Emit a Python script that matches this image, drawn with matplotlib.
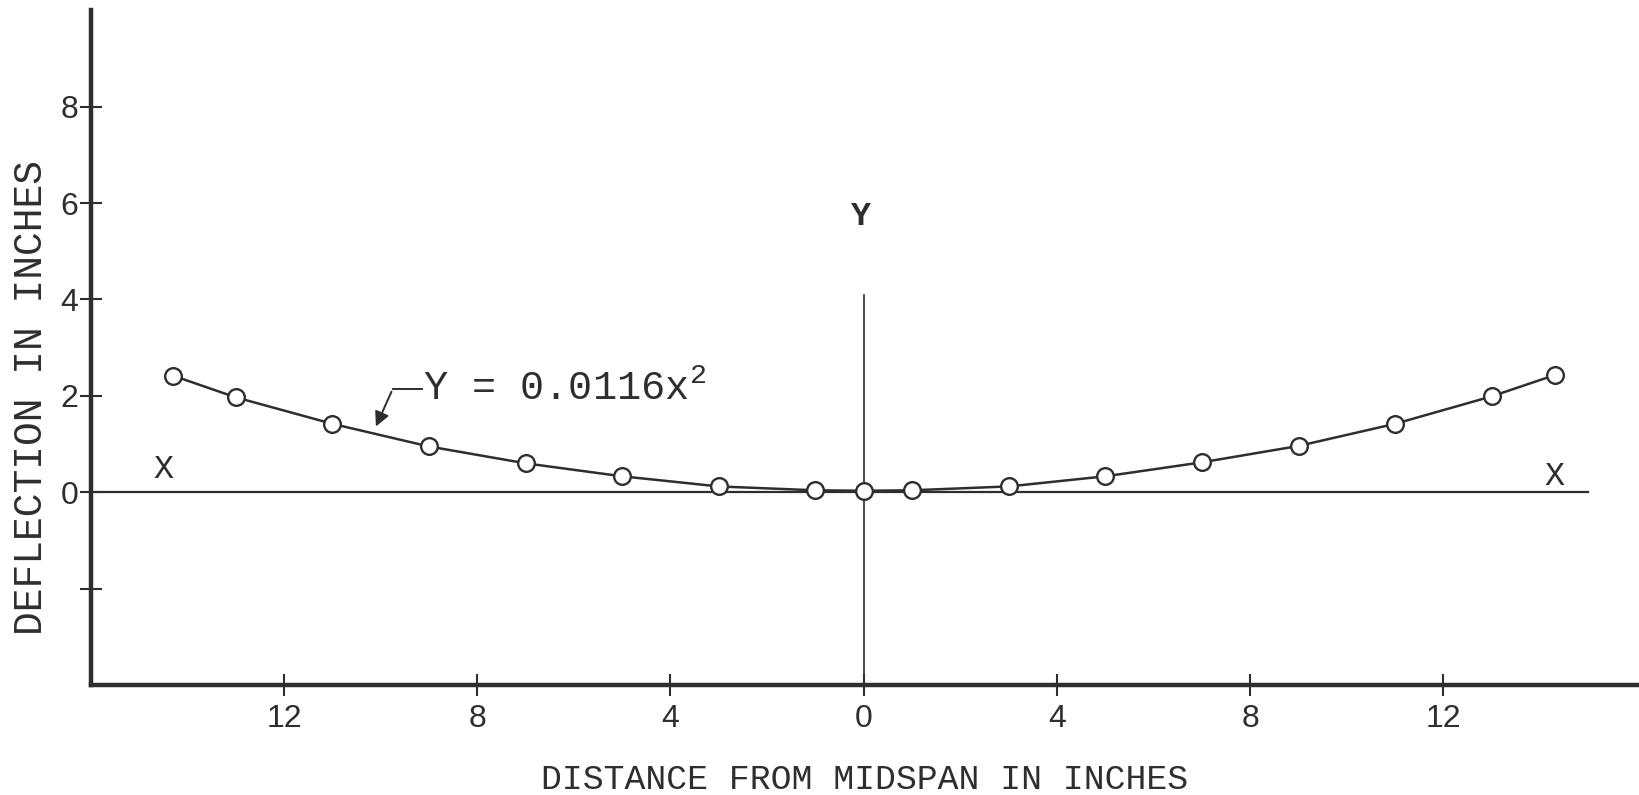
import numpy as np
import matplotlib.pyplot as plt

# measured points (distance from midspan, deflection)
dist = [-14.3, -13, -11, -9, -7, -5, -3, -1, 0, 1, 3, 5, 7, 9, 11, 13, 14.3]
defl = [2.42, 1.97, 1.42, 0.95, 0.60, 0.33, 0.12, 0.04, 0.03, 0.04, 0.12, 0.33, 0.62, 0.96, 1.42, 1.99, 2.43]

xticks = [-12, -8, -4, 0, 4, 8, 12]
xlabels = ['12', '8', '4', '0', '4', '8', '12']
yticks = [-2, 0, 2, 4, 6, 8]
ylabels = ['', '0', '2', '4', '6', '8']

ink = '#2e2e2e'
mono = ['Liberation Mono', 'DejaVu Sans Mono']
lettering = ['Liberation Sans', 'DejaVu Sans']

fig = plt.figure(figsize=(16.4, 7.95), dpi=100)
ax = fig.add_axes([0.0553, 0.1384, 0.9427, 0.8486])
ax.set_xlim(-16, 16)
ax.set_ylim(-4, 10)

for s in ['top', 'right']:
    ax.spines[s].set_visible(False)
for s in ['left', 'bottom']:
    ax.spines[s].set_linewidth(3.2)
    ax.spines[s].set_color(ink)

ax.set_xticks(xticks)
ax.set_xticklabels(xlabels, family=lettering, fontsize=23, color=ink)
ax.set_yticks(yticks)
ax.set_yticklabels(ylabels, family=lettering, fontsize=23, color=ink)
ax.tick_params(axis='both', direction='inout', length=16, width=1.5, color=ink)
ax.tick_params(axis='x', pad=6)
ax.tick_params(axis='y', pad=1)

# reference axes X-X and Y
ax.plot([-16, 15], [0, 0], color=ink, lw=1.6, zorder=2)
ax.plot([0, 0], [-4, 4.1], color=ink, lw=1.2, zorder=2)
ax.text(-14.5, 0.48, 'X', family=mono, fontsize=24, color=ink, ha='center', va='center')
ax.text(14.3, 0.33, 'X', family=mono, fontsize=24, color=ink, ha='center', va='center')
ax.text(-0.05, 5.73, 'Y', family=mono, fontsize=24, color=ink, ha='center', va='center',
        fontweight='bold')

ax.plot(dist, defl, color=ink, lw=1.8, marker='o', markersize=12, markerfacecolor='white',
        markeredgecolor=ink, markeredgewidth=1.7, zorder=3)

# equation label with leader
ax.plot([-9.75, -9.15], [2.14, 2.14], color=ink, lw=1.4)
ax.annotate('', xy=(-10.12, 1.31), xytext=(-9.75, 2.14),
            arrowprops=dict(arrowstyle='-|>', color=ink, lw=1.4, mutation_scale=22))
ax.text(-9.12, 2.14, r'Y = 0.0116x$^{\mathregular{2}}$', family=mono, fontsize=29, color=ink,
        ha='left', va='center')

fig.text(0.019, 0.5, 'DEFLECTION IN INCHES', family=mono, fontsize=28.5, color=ink,
         rotation=90, ha='center', va='center')
fig.text(0.527, 0.02, 'DISTANCE FROM MIDSPAN IN INCHES', family=mono, fontsize=25, color=ink,
         ha='center', va='center')

fig.savefig('out.png', dpi=100, facecolor='white')
